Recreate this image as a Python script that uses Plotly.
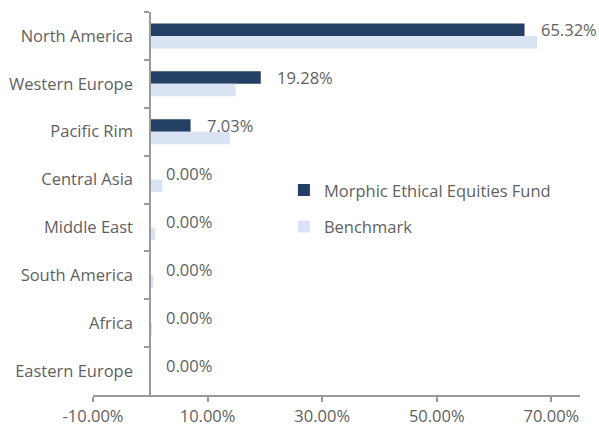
import plotly.graph_objects as go

categories = ["North America", "Western Europe", "Pacific Rim", "Central Asia",
              "Middle East", "South America", "Africa", "Eastern Europe"]
fund = [65.32, 19.28, 7.03, 0.0, 0.0, 0.0, 0.0, 0.0]
benchmark = [67.5, 14.9, 13.9, 2.1, 0.85, 0.55, 0.3, 0.1]
fund_labels = ["65.32%", "19.28%", "7.03%", "0.00%", "0.00%", "0.00%", "0.00%", "0.00%"]
x_ticks = [-10, 10, 30, 50, 70]
x_tick_labels = ["-10.00%", "10.00%", "30.00%", "50.00%", "70.00%"]

FONT = "Open Sans"
FS = 16.5
TXT = "#5f5f5f"
AX = "#9a9a9a"

fig = go.Figure()
fig.add_trace(go.Bar(y=categories, x=fund, orientation="h", name="Morphic Ethical Equities Fund",
                     marker=dict(color="#243F64", line=dict(width=0)), legendgroup="a"))
fig.add_trace(go.Bar(y=categories, x=benchmark, orientation="h", name="Benchmark",
                     marker=dict(color="#DAE3F3", line=dict(width=0)), legendgroup="b"))

for c, v, t in zip(categories, fund, fund_labels):
    fig.add_annotation(x=v, y=c, text=t, showarrow=False, xanchor="left", yanchor="middle",
                       xshift=14, yshift=6, font=dict(family=FONT, size=FS, color=TXT))

xmin, xmax = -10, 75
fig.update_layout(
    width=599, height=430,
    margin=dict(l=93, r=19, t=12, b=35, autoexpand=False),
    paper_bgcolor="white", plot_bgcolor="white",
    barmode="group", bargap=0.48, bargroupgap=0,
    font=dict(family=FONT, size=FS, color=TXT),
    showlegend=True,
    legend=dict(x=0.392, y=0.58, xanchor="left", yanchor="top",
                traceorder="grouped", tracegroupgap=12,
                font=dict(family=FONT, size=FS, color=TXT), bgcolor="rgba(0,0,0,0)"),
    xaxis=dict(range=[xmin, xmax], tickvals=x_ticks, ticktext=x_tick_labels, automargin=False,
               showgrid=False, zeroline=False, showline=True, linecolor=AX, linewidth=2,
               ticks="outside", ticklen=5, tickwidth=2, tickcolor=AX,
               tickfont=dict(family=FONT, size=FS, color=TXT)),
    yaxis=dict(autorange="reversed", anchor="free", position=(0 - xmin) / (xmax - xmin),
               automargin=False,
               showgrid=False, zeroline=False, showline=True, linecolor=AX, linewidth=2,
               ticks="outside", ticklen=5, tickwidth=2, tickcolor=AX, tickson="boundaries",
               ticklabelstandoff=13,
               tickfont=dict(family=FONT, size=FS, color=TXT)),
)

fig.write_html("out.html", config={"displayModeBar": False},
               post_script="document.body.style.margin='0';document.body.style.overflow='hidden';")
